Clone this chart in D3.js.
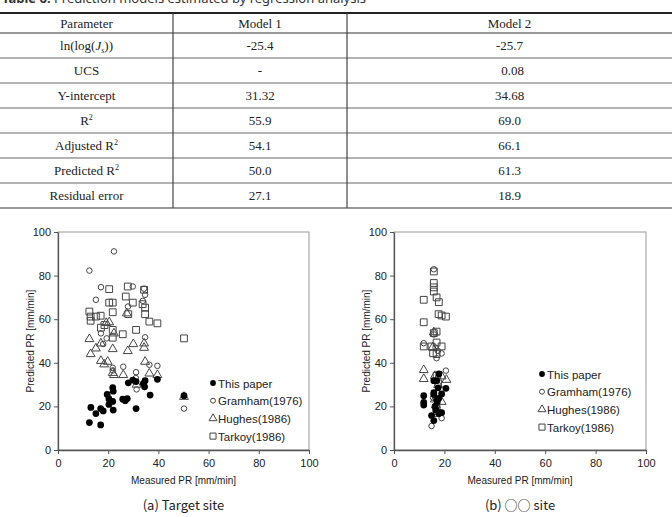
<!DOCTYPE html>
<html>
<head>
<meta charset="utf-8">
<script src="https://cdn.jsdelivr.net/npm/d3@7"></script>
<style>
  body { margin: 0; background: #fff; }
  svg { display: block; }
</style>
</head>
<body>
<div id="chart-area"></div>
<script>
// table contents
var tableHeader = ['Parameter', 'Model 1', 'Model 2']
var paramNames = ['ln(log(Js))', 'UCS', 'Y-intercept', 'R2', 'Adjusted R2', 'Predicted R2', 'Residual error']
var model1Vals = ['-25.4', '-', '31.32', '55.9', '54.1', '50.0', '27.1']
var model2Vals = ['-25.7', '0.08', '34.68', '69.0', '66.1', '61.3', '18.9']

// axis ticks
var xTicks = [0, 20, 40, 60, 80, 100]
var yTicks = [0, 20, 40, 60, 80, 100]
var seriesNames = ['This paper', 'Gramham(1976)', 'Hughes(1986)', 'Tarkoy(1986)']

// (a) Target site  [measured, predicted]
var thisPaperA = [[12.5,12.6],[13.1,19.5],[15.1,16.7],[17.0,11.5],[17.0,19.0],[18.0,17.9],[19.6,25.5],[20.3,20.9],[20.3,23.4],[21.8,28.6],[22.0,27.0],[21.8,22.3],[22.0,18.3],[25.8,23.3],[26.8,22.6],[27.6,23.6],[28.0,30.8],[29.8,32.1],[31.1,31.4],[31.1,19.0],[34.0,30.5],[34.5,29.0],[34.7,31.8],[36.7,25.2],[39.6,32.4],[50.2,24.9]]
var gramhamA = [[12.5,82.3],[15.1,68.9],[17.1,74.7],[17.1,53.5],[18.0,48.6],[19.4,51.2],[22.3,91.1],[21.8,37.7],[26.0,38.2],[27.9,65.8],[29.8,75.0],[31.1,35.7],[31.3,27.8],[33.8,68.4],[34.3,74.0],[34.7,71.2],[34.7,51.7],[36.4,39.1],[39.6,38.6],[50.2,19.0],[21.8,36.5],[31.0,33.0]]
var hughesA = [[12.5,50.9],[13.0,44.0],[15.1,46.6],[17.1,48.9],[17.1,40.9],[18.4,39.3],[19.8,40.5],[19.2,58.3],[20.4,58.6],[21.8,46.3],[22.3,53.5],[21.8,35.4],[22.3,34.4],[26.0,34.4],[27.8,45.4],[30.0,48.6],[27.4,62.7],[34.3,48.9],[34.3,46.9],[34.7,40.5],[36.4,35.1],[39.6,34.4],[31.3,30.0],[50.2,24.4]]
var tarkoyA = [[12.5,63.5],[13.0,61.2],[13.0,59.3],[15.1,61.2],[17.0,61.6],[17.1,56.1],[18.5,57.3],[20.4,73.8],[20.4,67.6],[21.8,67.6],[21.8,63.2],[21.8,55.1],[21.8,51.5],[25.8,53.1],[27.0,70.4],[27.8,75.0],[28.0,62.3],[29.8,67.6],[31.1,55.1],[33.7,66.9],[34.3,73.5],[34.7,65.3],[34.7,62.3],[36.4,58.9],[39.6,58.1],[50.2,51.2]]

// (b) other site
var thisPaperB = [[11.8,24.9],[11.8,21.8],[11.8,20.6],[14.9,15.8],[15.8,13.5],[15.8,26.3],[15.8,25.5],[15.8,31.8],[16.9,31.8],[17.8,34.9],[16.9,23.2],[17.8,23.7],[17.2,22.1],[16.6,18.4],[17.8,16.7],[18.9,17.1],[18.9,25.7],[20.6,28.3],[16.3,20.0],[17.5,28.5]]
var gramhamB = [[15.8,82.9],[11.8,49.0],[16.9,42.1],[18.9,44.3],[17.4,45.5],[20.6,36.4],[14.9,11.0],[18.9,14.6],[16.9,19.9],[15.5,24.0],[15.8,53.0],[17.5,33.5],[16.5,47.0]]
var hughesB = [[11.8,36.7],[11.8,32.6],[16.2,34.0],[17.5,29.9],[18.9,33.8],[20.8,32.2],[16.2,23.2],[18.9,22.1],[16.6,20.5],[15.8,54.0],[15.3,47.0],[17.0,17.5]]
var tarkoyB = [[11.8,68.9],[11.8,58.6],[15.8,81.9],[15.8,76.6],[15.8,74.6],[15.8,72.7],[16.9,70.0],[17.8,67.8],[17.7,62.3],[18.9,61.7],[20.6,61.2],[16.9,54.3],[15.8,53.6],[11.8,47.5],[14.9,47.5],[16.9,49.3],[18.9,47.5],[15.5,44.4],[16.9,44.0],[16.9,34.0],[17.5,30.5],[16.9,19.0],[17.2,17.0]]

var W = 672, H = 517

var svg = d3.select('#chart-area').append('svg')
    .attr('width', W)
    .attr('height', H)

// ---------- table ----------
var serif = '"Liberation Serif", "Times New Roman", serif'

var title = svg.append('text')
    .attr('x', 2).attr('y', 3)
    .attr('font-family', '"Noto Sans", sans-serif')
    .attr('font-size', '13px')
    .attr('fill', '#333')
title.append('tspan').attr('font-weight', 'bold').text('Table 6. ')
title.append('tspan').text('Prediction models estimated by regression analysis')

var colEdges = [0, 173, 347, W]
var headH = 20, rowH = 25, tableTop = 13
var rowTops = d3.range(paramNames.length).map(i => tableTop + headH + i * rowH)
var tableBottom = tableTop + headH + paramNames.length * rowH

// row lines
svg.selectAll('.row-line').data(rowTops.slice(1))
  .enter().append('line')
    .attr('class', 'row-line')
    .attr('x1', 0).attr('x2', W)
    .attr('y1', d => d).attr('y2', d => d)
    .attr('stroke', '#9a9a9a').attr('stroke-width', 1.5)

svg.append('line').attr('x1', 0).attr('x2', W).attr('y1', tableTop).attr('y2', tableTop)
    .attr('stroke', '#222').attr('stroke-width', 2)
svg.append('line').attr('x1', 0).attr('x2', W).attr('y1', tableTop + headH).attr('y2', tableTop + headH)
    .attr('stroke', '#333').attr('stroke-width', 1.2)
svg.append('line').attr('x1', 0).attr('x2', W).attr('y1', tableBottom).attr('y2', tableBottom)
    .attr('stroke', '#333').attr('stroke-width', 1.2)

svg.selectAll('.col-line').data(colEdges.slice(1, 3))
  .enter().append('line')
    .attr('x1', d => d).attr('x2', d => d)
    .attr('y1', tableTop).attr('y2', tableBottom)
    .attr('stroke', '#444').attr('stroke-width', 1.2)

var colMid = i => (colEdges[i] + colEdges[i + 1]) / 2

svg.selectAll('.head').data(tableHeader)
  .enter().append('text')
    .attr('x', (d, i) => colMid(i))
    .attr('y', tableTop + headH / 2 + 4.5)
    .attr('text-anchor', 'middle')
    .attr('font-family', serif).attr('font-size', '13px').attr('fill', '#222')
    .text(d => d)

function cellText(x, y, txt) {
  var t = svg.append('text')
      .attr('x', x).attr('y', y)
      .attr('text-anchor', 'middle')
      .attr('font-family', serif).attr('font-size', '13px').attr('fill', '#222')
  if (txt === 'ln(log(Js))') {
    t.append('tspan').text('ln(log(')
    t.append('tspan').attr('font-style', 'italic').text('J')
    t.append('tspan').attr('font-size', '8px').attr('dy', 3).attr('font-style', 'italic').text('s')
    t.append('tspan').attr('dy', -3).text('))')
  } else if (/R2$/.test(txt)) {
    t.append('tspan').text(txt.slice(0, -1))
    t.append('tspan').attr('font-size', '8px').attr('dy', -5).text('2')
  } else {
    t.text(txt)
  }
}

paramNames.forEach((p, i) => {
  var y = rowTops[i] + rowH / 2 + 4.5
  cellText(colMid(0), y, p)
  cellText(colMid(1), y, model1Vals[i])
  cellText(colMid(2) + (model2Vals[i] === '0.08' ? 3 : 0), y, model2Vals[i])
})

// ---------- scatter panels ----------
var sans = '"Liberation Sans", Arial, sans-serif'
var symbols = [d3.symbolCircle, d3.symbolCircle, d3.symbolTriangle, d3.symbolSquare]
var symSize = [36, 24, 34, 46]
var symFill = ['#000', 'none', 'none', 'none']
var symStroke = ['none', '#444', '#444', '#444']

function drawPanel(left, right, series, legendX, legendY, caption) {
  var x = d3.scaleLinear().domain([0, 100]).range([left, right])
  var y = d3.scaleLinear().domain([0, 100]).range([450, 232])
  var g = svg.append('g')

  // frame
  g.append('rect')
      .attr('x', left).attr('y', y(100))
      .attr('width', right - left).attr('height', y(0) - y(100))
      .attr('fill', 'none').attr('stroke', '#999').attr('stroke-width', 1)

  var xAxis = g.append('g').attr('transform', `translate(0, ${y(0)})`)
      .call(d3.axisBottom(x).tickValues(xTicks).tickSize(4).tickSizeOuter(0))
  var yAxis = g.append('g').attr('transform', `translate(${left}, 0)`)
      .call(d3.axisLeft(y).tickValues(yTicks).tickSize(4).tickSizeOuter(0))
  ;[xAxis, yAxis].forEach(a => {
    a.select('.domain').attr('stroke', '#555').attr('stroke-width', 1.3)
    a.selectAll('.tick line').attr('stroke', '#555')
    a.selectAll('.tick text').attr('font-family', sans).attr('font-size', '11px').attr('fill', '#222')
  })
  xAxis.selectAll('.tick text').attr('dy', '0.9em')

  g.append('text')
      .attr('x', (left + right) / 2).attr('y', 484)
      .attr('text-anchor', 'middle')
      .attr('font-family', sans).attr('font-size', '10px').attr('fill', '#222')
      .text('Measured  PR [mm/min]')
  g.append('text')
      .attr('transform', `translate(${left - 24}, ${y(50)}) rotate(-90)`)
      .attr('text-anchor', 'middle')
      .attr('font-family', sans).attr('font-size', '10px').attr('fill', '#222')
      .text('Predicted PR [mm/min]')

  // points, open markers first then filled on top
  ;[3, 2, 1, 0].forEach(k => {
    g.selectAll('.pt' + k).data(series[k])
      .enter().append('path')
        .attr('d', d3.symbol().type(symbols[k]).size(symSize[k]))
        .attr('transform', d => `translate(${x(d[0])}, ${y(d[1])})`)
        .attr('fill', symFill[k])
        .attr('stroke', symStroke[k])
        .attr('stroke-width', 1)
  })

  // legend
  var lg = g.append('g').attr('transform', `translate(${legendX}, ${legendY})`)
  seriesNames.forEach((name, k) => {
    var row = lg.append('g').attr('transform', `translate(0, ${k * 17.7})`)
    row.append('path')
        .attr('d', d3.symbol().type(symbols[k]).size(k === 0 ? 26 : symSize[k] * 0.8))
        .attr('fill', symFill[k]).attr('stroke', symStroke[k])
    row.append('text')
        .attr('x', 5).attr('y', 4.5)
        .attr('font-family', sans).attr('font-size', '11.5px').attr('fill', '#222')
        .text(name)
  })

  g.append('text')
      .attr('x', (left + right) / 2).attr('y', 510)
      .attr('text-anchor', 'middle')
      .attr('font-family', '"Noto Sans CJK KR", "Noto Sans", sans-serif')
      .attr('font-size', '13px').attr('fill', '#222')
      .text(caption)
}

drawPanel(58, 309, [thisPaperA, gramhamA, hughesA, tarkoyA], 213, 383, '(a) Target site')
drawPanel(394, 646, [thisPaperB, gramhamB, hughesB, tarkoyB], 542, 374, '(b) ○○ site')
</script>
</body>
</html>
